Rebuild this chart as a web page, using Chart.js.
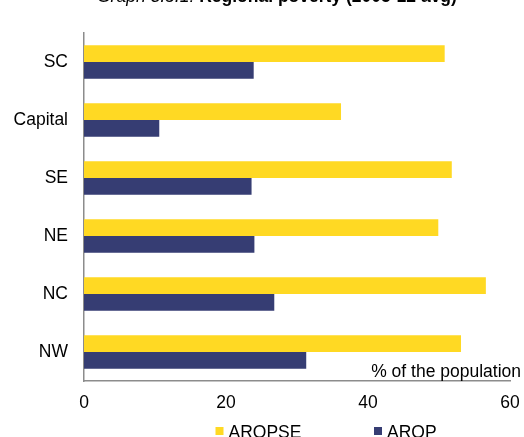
<!DOCTYPE html>
<html>
<head>
<meta charset="utf-8">
<script src="https://cdn.jsdelivr.net/npm/chart.js@4/dist/chart.umd.min.js"></script>
<style>
  html, body { margin: 0; padding: 0; background: #fff; overflow: hidden; }
  #wrap { position: relative; width: 524px; height: 437px; }
  canvas { display: block; }
</style>
</head>
<body>
<div id="wrap"><canvas id="chart" width="524" height="437"></canvas></div>
<script>
// Regions, top to bottom
const regions = ['SC', 'Capital', 'SE', 'NE', 'NC', 'NW'];
// At risk of poverty or social exclusion, % of the population
const aropse = [50.8, 36.2, 51.8, 49.9, 56.6, 53.1];
// At risk of poverty, % of the population
const arop = [23.9, 10.6, 23.6, 24.0, 26.8, 31.3];
// Value axis ticks
const xTicks = [0, 20, 40, 60];

const FONT = "'Liberation Sans', Arial, sans-serif";
const YELLOW = '#FFD923';
const NAVY = '#363D73';
const AXIS = '#8c8c8c';

// Title, unit note and legend drawn onto the canvas
const annotations = {
  id: 'annotations',
  afterDraw(chart) {
    const ctx = chart.ctx;
    ctx.save();
    ctx.fillStyle = '#000';
    ctx.textBaseline = 'alphabetic';
    ctx.textAlign = 'left';

    // Title
    const prefix = 'Graph 3.5.1: ';
    const rest = 'Regional poverty (2005-12 avg)';
    ctx.font = 'italic 17.5px ' + FONT;
    const pw = ctx.measureText(prefix).width;
    ctx.fillText(prefix, 97, 2);
    ctx.font = 'bold 17.5px ' + FONT;
    ctx.fillText(rest, 97 + pw, 2);

    // Unit note
    ctx.font = '17.5px ' + FONT;
    ctx.textAlign = 'right';
    ctx.fillText('% of the population', 521, 377);

    // Legend
    ctx.textAlign = 'left';
    const items = chart.data.datasets.map(d => ({ label: d.label, color: d.backgroundColor }));
    const boxX = [215.5, 374];
    items.forEach((it, i) => {
      ctx.fillStyle = it.color;
      ctx.fillRect(boxX[i], 427, 8, 8);
      ctx.fillStyle = '#000';
      ctx.fillText(it.label, boxX[i] + 13, 438);
    });
    ctx.restore();
  }
};

new Chart(document.getElementById('chart'), {
  type: 'bar',
  data: {
    labels: regions,
    datasets: [
      { label: 'AROPSE', data: aropse, backgroundColor: YELLOW },
      { label: 'AROP', data: arop, backgroundColor: NAVY }
    ]
  },
  options: {
    indexAxis: 'y',
    responsive: false,
    animation: false,
    devicePixelRatio: 1,
    categoryPercentage: 0.574,
    barPercentage: 1,
    layout: { padding: { top: 33, right: 14, left: 0, bottom: 0 } },
    plugins: {
      legend: { display: false },
      title: { display: false },
      tooltip: { enabled: false }
    },
    scales: {
      y: {
        grid: { display: false, drawTicks: false },
        border: { display: true, color: AXIS, width: 1.5 },
        ticks: { color: '#000', font: { family: FONT, size: 17.5 }, padding: 16 },
        afterFit(scale) {
          scale.width = 84;
          scale.paddingTop = 0;
          scale.paddingBottom = 0;
        }
      },
      x: {
        min: 0,
        max: 60,
        afterBuildTicks(scale) { scale.ticks = xTicks.map(v => ({ value: v })); },
        grid: { display: false, drawTicks: false },
        border: { display: true, color: AXIS, width: 1.5 },
        ticks: { color: '#000', font: { family: FONT, size: 17.5 }, padding: 12, maxRotation: 0 },
        afterFit(scale) {
          scale.height = 56;
          scale.paddingLeft = 0;
          scale.paddingRight = 0;
        }
      }
    }
  },
  plugins: [annotations]
});
</script>
</body>
</html>
